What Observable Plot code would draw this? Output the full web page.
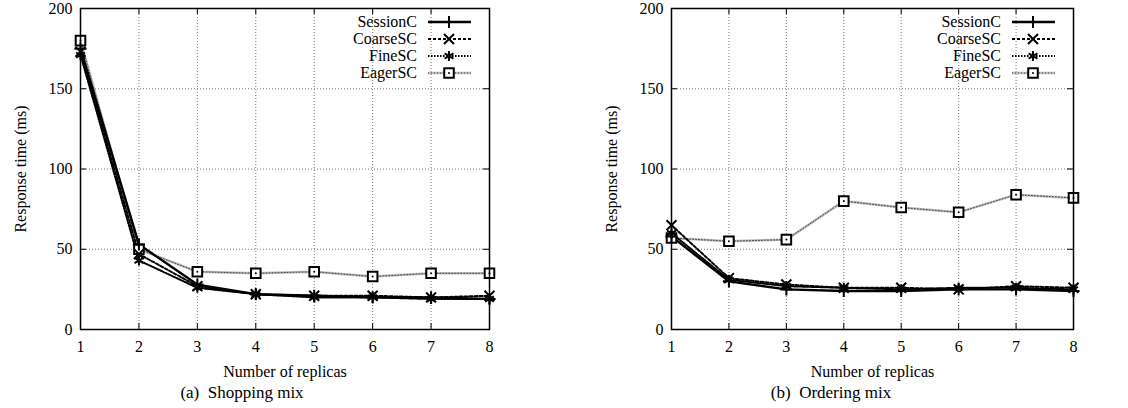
<!DOCTYPE html>
<html><head><meta charset="utf-8">
<script src="https://cdn.jsdelivr.net/npm/d3@7"></script>
<script src="https://cdn.jsdelivr.net/npm/@observablehq/plot@0.6"></script>
<style>
body{margin:0;background:#fff;font-family:'Liberation Serif','DejaVu Serif',serif;}
#wrap{position:relative;width:1128px;height:408px;overflow:hidden;background:#fff;}
#wrap svg{font-family:'Liberation Serif','DejaVu Serif',serif !important;font-size:16px !important;}
#wrap svg text{font-family:'Liberation Serif','DejaVu Serif',serif !important;}
.panel{position:absolute;top:0;}
.cap{position:absolute;font-family:'Liberation Serif','DejaVu Serif',serif;font-size:17px;line-height:20px;white-space:pre;transform:translateX(-50%);color:#000;}
</style></head><body><div id="wrap"></div>
<script>
// ---- data ----
const replicas = [1, 2, 3, 4, 5, 6, 7, 8];
const seriesNames = ["SessionC", "CoarseSC", "FineSC", "EagerSC"];
const yTicks = [0, 50, 100, 150, 200];
const gridXTicks = [2, 3, 4, 5, 6, 7];
const gridYTicks = [50, 100, 150];

// (a) Shopping mix
const shopSessionC = [175, 53, 28, 22, 21, 20, 20, 19];
const shopCoarseSC = [173, 47, 27, 22, 21, 21, 20, 21];
const shopFineSC   = [171, 43, 26, 22, 20, 20, 19, 19];
const shopEagerSC  = [180, 50, 36, 35, 36, 33, 35, 35];

// (b) Ordering mix
const orderSessionC = [58, 30, 25, 24, 24, 25, 25, 24];
const orderCoarseSC = [65, 32, 28, 26, 26, 25, 27, 26];
const orderFineSC   = [60, 31, 27, 26, 25, 26, 26, 25];
const orderEagerSC  = [57, 55, 56, 80, 76, 73, 84, 82];

const captions = ["(a)  Shopping mix", "(b)  Ordering mix"];
const xLabel = "Number of replicas";
const yLabel = "Response time (ms)";

// ---- styles ----
const styles = {
  SessionC: {stroke: "#000", width: 2.4, dash: null, symbol: "plus", r: 4},
  CoarseSC: {stroke: "#000", width: 2, dash: "3,2", symbol: "times", r: 4.6},
  FineSC:   {stroke: "#000", width: 2, dash: "1.5,1.5", symbol: "asterisk", r: 4.8},
  EagerSC:  {stroke: "#444", width: 1, dash: "1,2", symbol: "square", r: 5.4}
};
const symMap = {plus: d3.symbolPlus, times: d3.symbolTimes, asterisk: d3.symbolAsterisk, square: d3.symbolSquare};
const FONT = "'Liberation Serif','DejaVu Serif',serif";
const EAGER_UNDER = "#bcbcbc";

function buildRows(vals) {
  const rows = [];
  seriesNames.forEach((s, i) => replicas.forEach((x, j) => rows.push({series: s, x, y: vals[i][j]})));
  return rows;
}

function makePanel(vals, opts) {
  const rows = buildRows(vals);
  const W = opts.width, H = 382;
  const mt = 8, mb = 53, ml = opts.ml, mr = opts.mr;
  const pw = W - ml - mr, ph = H - mt - mb;
  const drawOrder = ["EagerSC", "FineSC", "CoarseSC", "SessionC"];
  const marks = [
    Plot.gridX(gridXTicks, {stroke: "#777", strokeOpacity: 1, strokeWidth: 1, strokeDasharray: "1,2"}),
    Plot.gridY(gridYTicks, {stroke: "#777", strokeOpacity: 1, strokeWidth: 1, strokeDasharray: "1,2"}),
    // inward ticks
    Plot.ruleY(yTicks, {y: d => d, insetRight: pw - 6, stroke: "#000"}),
    Plot.ruleY(yTicks, {y: d => d, insetLeft: pw - 6, stroke: "#000"}),
    Plot.ruleX(replicas, {x: d => d, insetTop: ph - 6, stroke: "#000"}),
    Plot.ruleX(replicas, {x: d => d, insetBottom: ph - 6, stroke: "#000"}),
    Plot.axisX({ticks: replicas, tickSize: 0, tickPadding: 11, tickFormat: d => String(d),
      label: xLabel, labelAnchor: "center", labelArrow: "none", labelOffset: 47}),
    Plot.axisY({ticks: yTicks, tickSize: 0, tickPadding: 8,
      label: yLabel, labelAnchor: "center", labelArrow: "none", labelOffset: opts.ylo}),
  ];
  // Eager gray underlay
  marks.push(Plot.line(rows.filter(d => d.series === "EagerSC"), {x: "x", y: "y", stroke: EAGER_UNDER, strokeWidth: 2.5}));
  for (const s of drawOrder) {
    const st = styles[s];
    const data = rows.filter(d => d.series === s);
    marks.push(Plot.line(data, {x: "x", y: "y", stroke: st.stroke, strokeWidth: st.width, strokeDasharray: st.dash || undefined}));
  }
  for (const s of drawOrder) {
    const st = styles[s];
    const data = rows.filter(d => d.series === s);
    if (s === "EagerSC") {
      marks.push(Plot.dot(data, {x: "x", y: "y", symbol: "square", r: st.r, fill: "#fff", stroke: "#000", strokeWidth: 2}));
      marks.push(Plot.dot(data, {x: "x", y: "y", r: 1, fill: "#000", stroke: "none"}));
    } else {
      marks.push(Plot.dot(data, {x: "x", y: "y", symbol: st.symbol, r: st.r, fill: "none", stroke: "#000", strokeWidth: 2}));
    }
  }
  marks.push(Plot.frame({stroke: "#000", strokeWidth: 1.5}));

  const svg = Plot.plot({
    width: W, height: H,
    marginTop: mt, marginBottom: mb, marginLeft: ml, marginRight: mr,
    x: {domain: [1, 8]},
    y: {domain: [0, 200]},
    style: {fontFamily: FONT, fontSize: "16px", color: "#000", background: "#fff"},
    marks
  });
  svg.setAttribute("font-family", FONT);
  svg.setAttribute("font-size", "16");

  // legend (inside plot, top right, no box)
  const right = W - mr;
  const g = d3.select(svg).append("g").attr("font-size", 16).attr("font-family", FONT);
  seriesNames.forEach((s, i) => {
    const st = styles[s];
    const yy = mt + 14 + i * 17;
    g.append("text").attr("x", right - 72).attr("y", yy).attr("dy", "0.32em").attr("text-anchor", "end").attr("fill", "#000").text(s);
    if (s === "EagerSC") {
      g.append("line").attr("x1", right - 61).attr("x2", right - 18).attr("y1", yy).attr("y2", yy).attr("stroke", EAGER_UNDER).attr("stroke-width", 2.5);
    }
    g.append("line").attr("x1", right - 61).attr("x2", right - 18).attr("y1", yy).attr("y2", yy)
      .attr("stroke", st.stroke).attr("stroke-width", st.width).attr("stroke-dasharray", st.dash);
    const cx = right - 40;
    g.append("path").attr("transform", `translate(${cx},${yy})`)
      .attr("d", d3.symbol(symMap[st.symbol], Math.PI * st.r * st.r)())
      .attr("fill", s === "EagerSC" ? "#fff" : "none").attr("stroke", "#000").attr("stroke-width", 2);
    if (s === "EagerSC") g.append("circle").attr("cx", cx).attr("cy", yy).attr("r", 1).attr("fill", "#000");
  });
  return svg;
}

const wrap = document.getElementById("wrap");
const panels = [
  {vals: [shopSessionC, shopCoarseSC, shopFineSC, shopEagerSC], left: 0, width: 560, ml: 80, mr: 71, capX: 242, ylo: 66},
  {vals: [orderSessionC, orderCoarseSC, orderFineSC, orderEagerSC], left: 560, width: 568, ml: 111, mr: 55, capX: 831, ylo: 66}
];
panels.forEach((p, i) => {
  const div = document.createElement("div");
  div.className = "panel";
  div.style.left = p.left + "px";
  div.appendChild(makePanel(p.vals, p));
  wrap.appendChild(div);
  const cap = document.createElement("div");
  cap.className = "cap";
  cap.style.left = p.capX + "px";
  cap.style.top = "383px";
  cap.textContent = captions[i];
  wrap.appendChild(cap);
});
</script></body></html>
